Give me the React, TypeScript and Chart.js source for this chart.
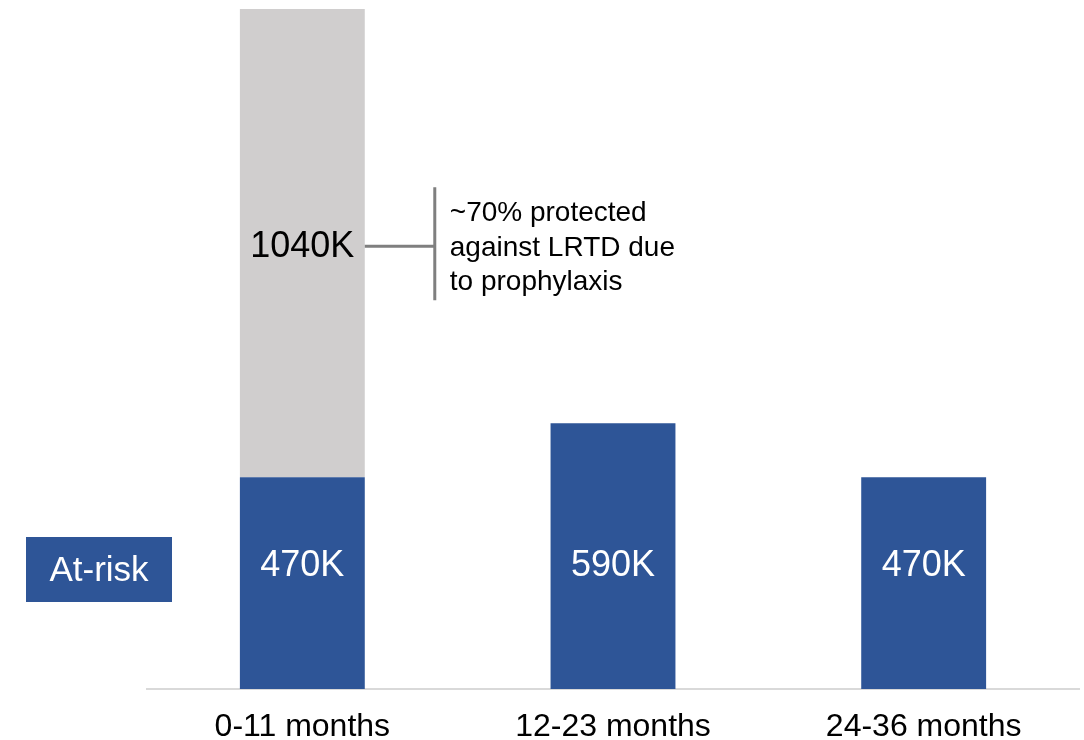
import React, { useEffect, useRef } from "react";
import { Chart, registerables } from "chart.js";

Chart.register(...registerables);

const categories = ["0-11 months", "12-23 months", "24-36 months"];
const atRiskValues = [470, 590, 470];
const protectedValues = [1040, null, null];
const atRiskLabels = ["470K", "590K", "470K"];
const protectedLabels = ["1040K", "", ""];
const legendLabel = "At-risk";
const annotationLines = ["~70% protected", "against LRTD due", "to prophylaxis"];

const BLUE = "#2E5597";
const GRAY = "#D0CECE";
const FONT = "'Liberation Sans', Arial, sans-serif";

const labelPlugin = {
  id: "customLabels",
  afterDatasetsDraw(chart: any) {
    const ctx = chart.ctx;
    const area = chart.chartArea;
    const m0 = chart.getDatasetMeta(0);
    const m1 = chart.getDatasetMeta(1);
    ctx.save();
    ctx.textAlign = "center";
    ctx.textBaseline = "middle";
    ctx.font = `36px ${FONT}`;
    m0.data.forEach((el: any, i: number) => {
      ctx.fillStyle = "#FFFFFF";
      ctx.fillText(atRiskLabels[i], el.x, el.base - 123);
    });
    let anchor: any = null;
    m1.data.forEach((el: any, i: number) => {
      if (protectedValues[i] == null) return;
      const cy = (el.y + el.base) / 2;
      ctx.fillStyle = "#000000";
      ctx.fillText(protectedLabels[i], el.x, cy + 4);
      if (!anchor) anchor = { right: el.x + el.width / 2, cy };
    });
    // annotation bracket
    if (anchor) {
      const bx = anchor.right + 70;
      ctx.strokeStyle = "#7F7F7F";
      ctx.lineWidth = 3;
      ctx.beginPath();
      ctx.moveTo(anchor.right, anchor.cy + 3);
      ctx.lineTo(bx, anchor.cy + 3);
      ctx.moveTo(bx, anchor.cy - 56);
      ctx.lineTo(bx, anchor.cy + 57);
      ctx.stroke();
      ctx.textAlign = "left";
      ctx.textBaseline = "alphabetic";
      ctx.fillStyle = "#000000";
      ctx.font = `28px ${FONT}`;
      annotationLines.forEach((t, k) => {
        ctx.fillText(t, bx + 15, anchor.cy - 22 + k * 34.5);
      });
    }
    // At-risk box
    const boxX = area.left - 121;
    const boxY = 537;
    const boxW = 146;
    const boxH = 65;
    ctx.fillStyle = BLUE;
    ctx.fillRect(boxX, boxY, boxW, boxH);
    ctx.fillStyle = "#FFFFFF";
    ctx.textAlign = "center";
    ctx.textBaseline = "middle";
    ctx.font = `35px ${FONT}`;
    ctx.fillText(legendLabel, boxX + boxW / 2, boxY + boxH / 2 + 2);
    ctx.restore();
  },
};

export default function App() {
  const ref = useRef<HTMLCanvasElement | null>(null);
  useEffect(() => {
    if (!ref.current) return;
    const chart = new Chart(ref.current, {
      type: "bar",
      data: {
        labels: categories,
        datasets: [
          {
            label: "At-risk",
            data: atRiskValues,
            backgroundColor: BLUE,
            stack: "s",
            barPercentage: 0.402,
            categoryPercentage: 1,
          },
          {
            label: "Protected",
            data: protectedValues as any,
            backgroundColor: GRAY,
            stack: "s",
            barPercentage: 0.402,
            categoryPercentage: 1,
          },
        ],
      },
      options: {
        responsive: false,
        animation: false,
        layout: { padding: { left: 147, right: 5, top: 0, bottom: 0 } },
        plugins: {
          legend: { display: false },
          tooltip: { enabled: false },
        },
        scales: {
          x: {
            stacked: true,
            grid: { display: false, drawTicks: false },
            border: { display: true, color: "#D9D9D9", width: 2 },
            ticks: {
              color: "#000000",
              font: { family: FONT, size: 32 },
              padding: 19,
            },
            afterFit(scale: any) {
              scale.height = 51;
            },
          },
          y: {
            stacked: true,
            display: false,
            min: 0,
            max: 1530,
          },
        },
      },
      plugins: [labelPlugin],
    });
    return () => chart.destroy();
  }, []);
  return (
    <div style={{ position: "fixed", left: 0, top: 0, width: 1084, height: 740, background: "#fff" }}>
      <canvas ref={ref} width={1084} height={740} style={{ display: "block" }} />
    </div>
  );
}
